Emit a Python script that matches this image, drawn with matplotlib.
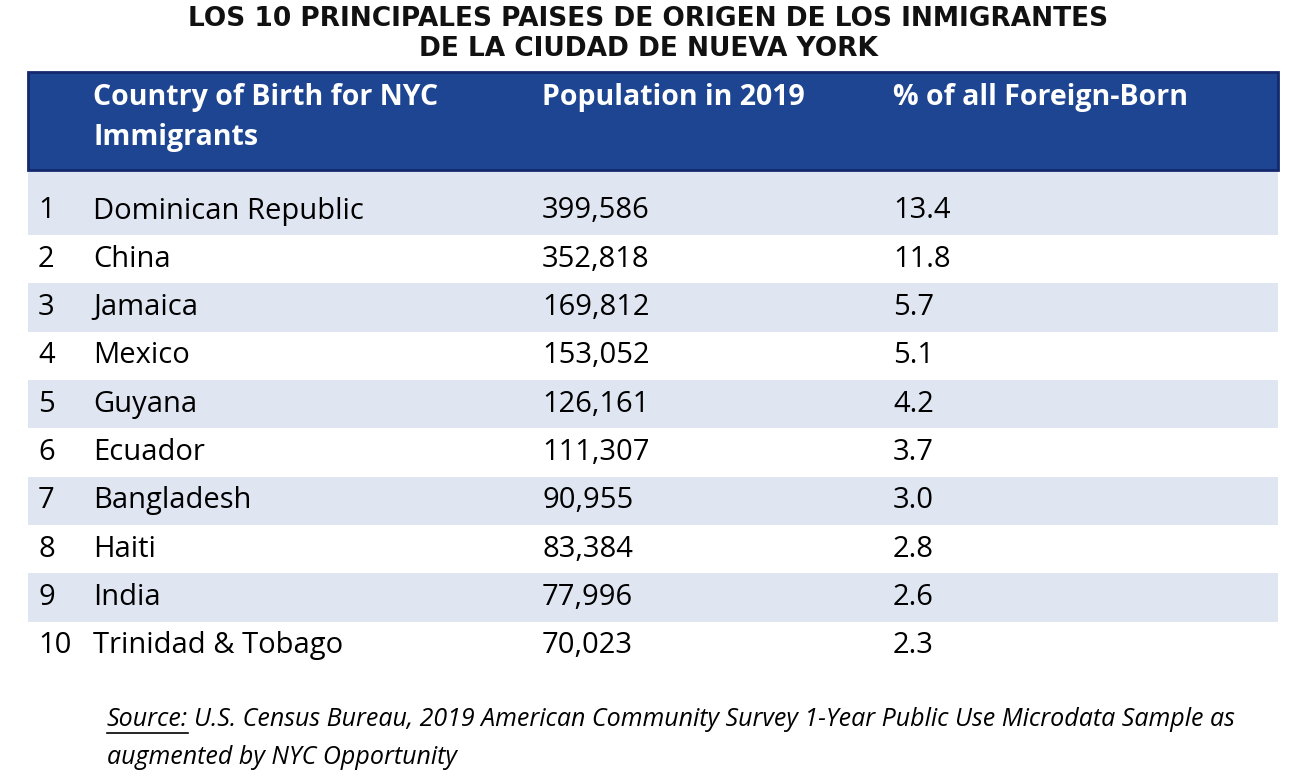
import matplotlib
matplotlib.use("Agg")
from matplotlib import pyplot as plt
from matplotlib.patches import Rectangle

title_lines = ["LOS 10 PRINCIPALES PAISES DE ORIGEN DE LOS INMIGRANTES", "DE LA CIUDAD DE NUEVA YORK"]
headers = [["Country of Birth for NYC", "Immigrants"], ["Population in 2019"], ["% of all Foreign-Born"]]
ranks = ["1", "2", "3", "4", "5", "6", "7", "8", "9", "10"]
countries = ["Dominican Republic", "China", "Jamaica", "Mexico", "Guyana", "Ecuador",
             "Bangladesh", "Haiti", "India", "Trinidad & Tobago"]
populations = ["399,586", "352,818", "169,812", "153,052", "126,161", "111,307",
               "90,955", "83,384", "77,996", "70,023"]
shares = ["13.4", "11.8", "5.7", "5.1", "4.2", "3.7", "3.0", "2.8", "2.6", "2.3"]

W, H = 1298, 777
fig = plt.figure(figsize=(W / 100, H / 100), dpi=100)
ax = fig.add_axes([0, 0, 1, 1])
ax.set_xlim(0, W)
ax.set_ylim(H, 0)
ax.axis("off")

FONT = "Open Sans"

# title
for i, line in enumerate(title_lines):
    ax.text(648, 19 + 30 * i, line, ha="center", va="center", fontsize=19,
            fontweight="bold", family="DejaVu Sans", color="#111111")

# header box
ax.add_patch(Rectangle((28, 72), 1250, 98, facecolor="#1e4592", edgecolor="#14286e", lw=2))
col_x = [93, 542, 893]
for x, lines in zip(col_x, headers):
    for j, h in enumerate(lines):
        ax.text(x, 98 + 40 * j, h, ha="left", va="center", fontsize=20.5, fontweight="bold",
                family=FONT, color="white")

# rows
row_h = 48.3
y0 = 211
for i in range(len(countries)):
    yc = y0 + i * row_h
    if i % 2 == 0:
        top = 172 if i == 0 else yc - row_h / 2
        ax.add_patch(Rectangle((28, top), 1250, yc + row_h / 2 - top,
                               facecolor="#dfe6f2", edgecolor="none"))
    for x, s in zip([38] + col_x, [ranks[i], countries[i], populations[i], shares[i]]):
        ax.text(x, yc, s, ha="left", va="center", fontsize=21, family=FONT, color="black")

# source
src = ax.text(107, 720, "Source:", ha="left", va="center", fontsize=18, style="italic",
              family=FONT, color="black")
fig.canvas.draw()
bb = src.get_window_extent().transformed(ax.transData.inverted())
ax.plot([bb.x0, bb.x1], [733, 733], color="black", lw=1.2)
ax.text(bb.x1 + 6, 720, "U.S. Census Bureau, 2019 American Community Survey 1-Year Public Use Microdata Sample as",
        ha="left", va="center", fontsize=18, style="italic", family=FONT, color="black")
ax.text(107, 758, "augmented by NYC Opportunity", ha="left", va="center", fontsize=18,
        style="italic", family=FONT, color="black")

fig.savefig("out.png", dpi=100)
